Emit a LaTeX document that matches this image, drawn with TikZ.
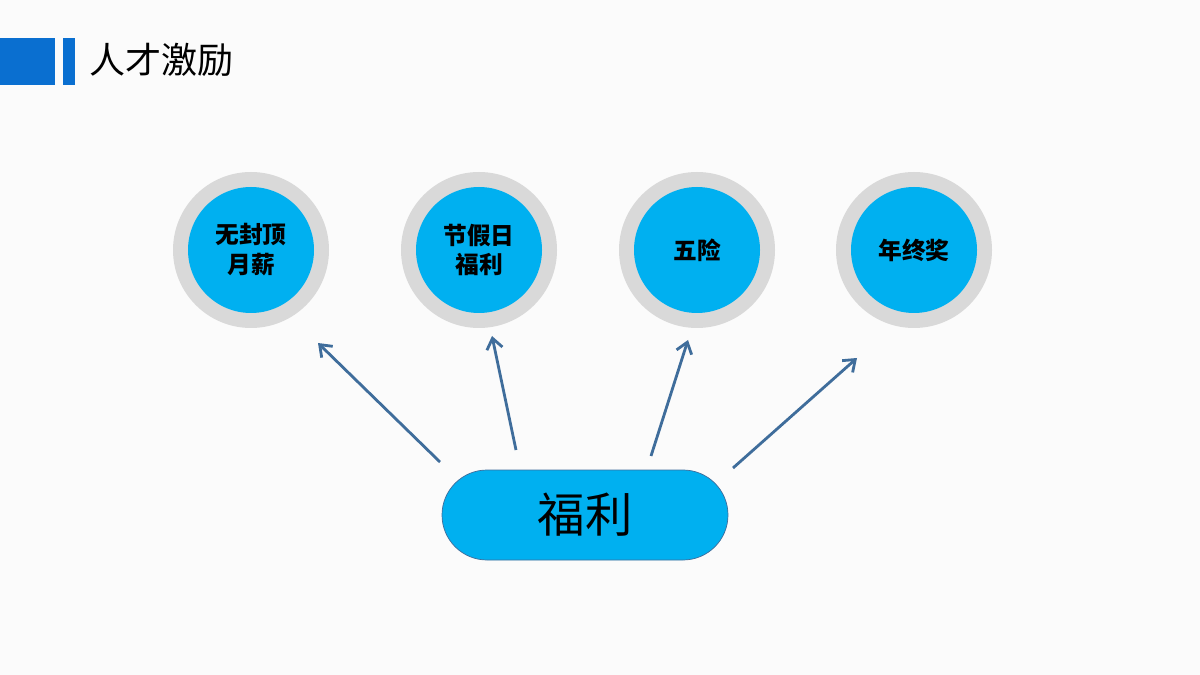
\documentclass[tikz,border=0pt]{standalone}
\usepackage{fontspec}
\newfontfamily\cjk{Noto Sans CJK SC}
\usetikzlibrary{arrows.meta}
\definecolor{skyblue}{HTML}{00B0F0}
\definecolor{ringgray}{HTML}{D9D9D9}
\definecolor{arrowblue}{HTML}{3F6D9B}
\definecolor{headblue}{HTML}{0A6FD0}
\tikzset{
    ring/.style={circle, fill=ringgray, minimum size=156*0.02cm, inner sep=0pt},
    disc/.style={circle, fill=skyblue, minimum size=126*0.02cm, inner sep=0pt, align=center,
        font=\cjk\bfseries\fontsize{13.5}{17}\selectfont},
    arr/.style={arrowblue, line width=1.6pt, -{Straight Barb[length=6pt,width=9pt]}}
}
\begin{document}
\begin{tikzpicture}[x=0.02cm, y=-0.02cm]
    \useasboundingbox[fill=gray!3] (0,0) rectangle (1200,675);
    % header
    \fill[headblue] (0,38) rectangle (55,85);
    \fill[headblue] (63,38) rectangle (75,85);
    \node[anchor=west, font=\cjk\fontsize{20.5}{24}\selectfont] (title) at (83,60) {人才激励};
    % circles
    \foreach \n/\x/\t in {1/251/{无封顶\\月薪}, 2/479/{节假日\\福利}, 3/697/五险, 4/914/年终奖} {
        \node[ring] (r\n) at (\x,250) {};
        \node[disc] (c\n) at (\x,250) {\t};
    }
    % centre
    \node[draw=arrowblue, fill=skyblue, rounded corners=45*0.02cm, minimum width=286*0.02cm,
        minimum height=90*0.02cm, font=\cjk\fontsize{27}{30}\selectfont] (pill) at (585,515) {福利};
    \coordinate (s1) at (440,462); \coordinate (e1) at (318,343);
    \coordinate (s2) at (516,450); \coordinate (e2) at (492,336);
    \coordinate (s3) at (651,456); \coordinate (e3) at (688,340);
    \coordinate (s4) at (733,468); \coordinate (e4) at (857,358);
    \foreach \i in {1,...,4}
        \draw[arr] (s\i) -- (e\i);
\end{tikzpicture}
\end{document}
